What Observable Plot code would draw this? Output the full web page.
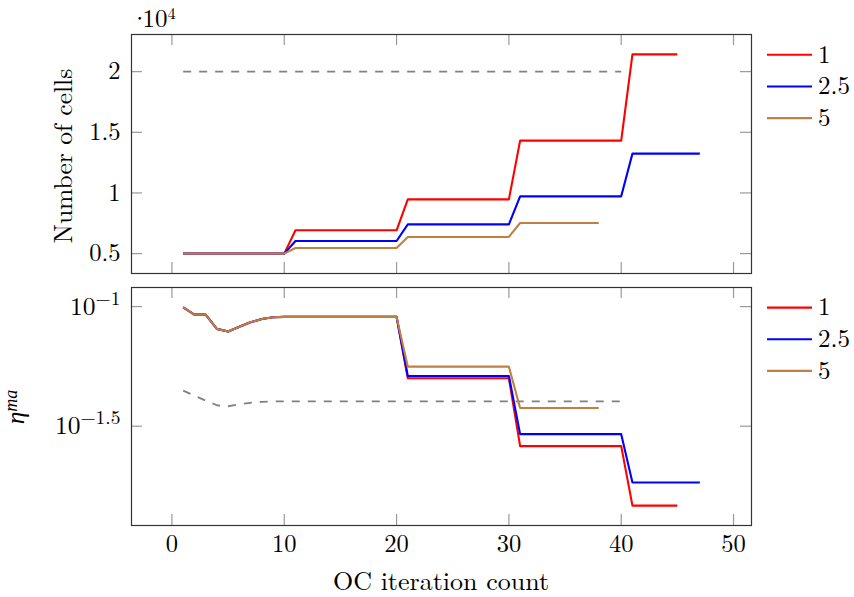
<!DOCTYPE html>
<html>
<head>
<meta charset="utf-8">
<script src="https://cdn.jsdelivr.net/npm/d3@7"></script>
<script src="https://cdn.jsdelivr.net/npm/@observablehq/plot@0.6"></script>
<style>
  html, body { margin: 0; padding: 0; background: #fff; }
  #chart { position: relative; width: 854px; height: 597px; overflow: hidden; font-family: 'Latin Modern Roman', 'Liberation Serif', serif; color: #000; }
  #chart svg.panel { position: absolute; left: 0; background: transparent; }
</style>
</head>
<body>
<div id="chart"></div>
<script>
// ---------------- data ----------------
const seriesNames = ["1", "2.5", "5"];
const seriesColors = ["#ff0000", "#0000ff", "#bf8040"];
const refColor = "#808080";

const xTicks = [0, 10, 20, 30, 40, 50];
const cellTicks = [5000, 10000, 15000, 20000];
const etaTickExponents = [-1, -1.5];

// Number of cells per OC iteration (iteration = index + 1)
const cellsRed = [
  5000, 5000, 5000, 5000, 5000, 5000, 5000, 5000, 5000, 5000,
  6920, 6920, 6920, 6920, 6920, 6920, 6920, 6920, 6920, 6920,
  9470, 9470, 9470, 9470, 9470, 9470, 9470, 9470, 9470, 9470,
  14310, 14310, 14310, 14310, 14310, 14310, 14310, 14310, 14310, 14310,
  21420, 21420, 21420, 21420, 21420
];
const cellsBlue = [
  5000, 5000, 5000, 5000, 5000, 5000, 5000, 5000, 5000, 5000,
  6040, 6040, 6040, 6040, 6040, 6040, 6040, 6040, 6040, 6040,
  7410, 7410, 7410, 7410, 7410, 7410, 7410, 7410, 7410, 7410,
  9720, 9720, 9720, 9720, 9720, 9720, 9720, 9720, 9720, 9720,
  13240, 13240, 13240, 13240, 13240, 13240, 13240
];
const cellsBrown = [
  5000, 5000, 5000, 5000, 5000, 5000, 5000, 5000, 5000, 5000,
  5460, 5460, 5460, 5460, 5460, 5460, 5460, 5460, 5460, 5460,
  6370, 6370, 6370, 6370, 6370, 6370, 6370, 6370, 6370, 6370,
  7520, 7520, 7520, 7520, 7520, 7520, 7520, 7520
];
const cellsLimit = [
  20000, 20000, 20000, 20000, 20000, 20000, 20000, 20000, 20000, 20000,
  20000, 20000, 20000, 20000, 20000, 20000, 20000, 20000, 20000, 20000,
  20000, 20000, 20000, 20000, 20000, 20000, 20000, 20000, 20000, 20000,
  20000, 20000, 20000, 20000, 20000, 20000, 20000, 20000, 20000, 20000
];

// eta^ma per OC iteration
const etaRed = [
  0.0993, 0.0926, 0.0926, 0.0807, 0.0787, 0.0823, 0.0860, 0.0887, 0.0902, 0.0906,
  0.0906, 0.0906, 0.0906, 0.0906, 0.0906, 0.0906, 0.0906, 0.0906, 0.0906, 0.0906,
  0.0502, 0.0502, 0.0502, 0.0502, 0.0502, 0.0502, 0.0502, 0.0502, 0.0502, 0.0502,
  0.0261, 0.0261, 0.0261, 0.0261, 0.0261, 0.0261, 0.0261, 0.0261, 0.0261, 0.0261,
  0.01472, 0.01472, 0.01472, 0.01472, 0.01472
];
const etaBlue = [
  0.0993, 0.0926, 0.0926, 0.0807, 0.0787, 0.0823, 0.0860, 0.0887, 0.0902, 0.0906,
  0.0906, 0.0906, 0.0906, 0.0906, 0.0906, 0.0906, 0.0906, 0.0906, 0.0906, 0.0906,
  0.0513, 0.0513, 0.0513, 0.0513, 0.0513, 0.0513, 0.0513, 0.0513, 0.0513, 0.0513,
  0.0293, 0.0293, 0.0293, 0.0293, 0.0293, 0.0293, 0.0293, 0.0293, 0.0293, 0.0293,
  0.0184, 0.0184, 0.0184, 0.0184, 0.0184, 0.0184, 0.0184
];
const etaBrown = [
  0.0993, 0.0926, 0.0926, 0.0807, 0.0787, 0.0823, 0.0860, 0.0887, 0.0902, 0.0906,
  0.0906, 0.0906, 0.0906, 0.0906, 0.0906, 0.0906, 0.0906, 0.0906, 0.0906, 0.0906,
  0.0561, 0.0561, 0.0561, 0.0561, 0.0561, 0.0561, 0.0561, 0.0561, 0.0561, 0.0561,
  0.0377, 0.0377, 0.0377, 0.0377, 0.0377, 0.0377, 0.0377, 0.0377
];
const etaLimit = [
  0.04455, 0.04246, 0.04046, 0.03869, 0.03832, 0.03906, 0.03963, 0.03999, 0.04019, 0.0402,
  0.0402, 0.0402, 0.0402, 0.0402, 0.0402, 0.0402, 0.0402, 0.0402, 0.0402, 0.0402,
  0.0402, 0.0402, 0.0402, 0.0402, 0.0402, 0.0402, 0.0402, 0.0402, 0.0402, 0.0402,
  0.0402, 0.0402, 0.0402, 0.0402, 0.0402, 0.0402, 0.0402, 0.0402, 0.0402, 0.0402
];

// ---------------- build ----------------
const FONT = "'Latin Modern Roman', 'Liberation Serif', serif";
const toRows = (values, series) => values.map((v, i) => ({iter: i + 1, value: v, series}));

const cellRows = [...toRows(cellsRed, seriesNames[0]), ...toRows(cellsBlue, seriesNames[1]), ...toRows(cellsBrown, seriesNames[2])];
const cellLimitRows = toRows(cellsLimit, "limit");
const etaRows = [...toRows(etaRed, seriesNames[0]), ...toRows(etaBlue, seriesNames[1]), ...toRows(etaBrown, seriesNames[2])];
const etaLimitRows = toRows(etaLimit, "limit");

// pgfplots-style 10% enlargement of the data limits
function enlarge([a, b], f = 0.1) { const d = (b - a) * f; return [a - d, b + d]; }
const xDomain = enlarge(d3.extent([...cellRows, ...cellLimitRows, ...etaRows, ...etaLimitRows], d => d.iter));
const cellDomain = enlarge(d3.extent([...cellRows, ...cellLimitRows], d => d.value));
const etaLogExt = enlarge(d3.extent([...etaRows, ...etaLimitRows], d => Math.log10(d.value)));
const etaDomain = etaLogExt.map(e => Math.pow(10, e));
const etaTicks = etaTickExponents.map(e => Math.pow(10, e));

const W = 854, ML = 131, MR = 103, TL = 11, FS = 24.5;
const innerW = W - ML - MR;
const tickStyle = {stroke: "#9a9a9a", strokeWidth: 1.2};
const frameStyle = {stroke: "#333", strokeWidth: 1.2};
const lineStyle = {x: "iter", y: "value", z: "series", stroke: "series", strokeWidth: 2.1, strokeLinecap: "butt", strokeLinejoin: "round"};
const refStyle = {x: "iter", y: "value", stroke: refColor, strokeWidth: 1.8, strokeDasharray: "8,8", strokeLinecap: "butt"};

function tickMarks(yTicks, innerH) {
  return [
    Plot.tickX(xTicks, {x: d => d, insetTop: innerH - TL, ...tickStyle}),
    Plot.tickX(xTicks, {x: d => d, insetBottom: innerH - TL, ...tickStyle}),
    Plot.tickY(yTicks, {y: d => d, insetRight: innerW - TL, ...tickStyle}),
    Plot.tickY(yTicks, {y: d => d, insetLeft: innerW - TL, ...tickStyle})
  ];
}

const chart = document.getElementById("chart");

// top panel: number of cells
const topH = 290, topMT = 34, topMB = 17;
const topPlot = Plot.plot({
  width: W, height: topH,
  marginTop: topMT, marginBottom: topMB, marginLeft: ML, marginRight: MR,
  style: {fontFamily: FONT, fontSize: FS + "px", color: "#000", background: "transparent"},
  x: {domain: xDomain, axis: null},
  y: {domain: cellDomain},
  color: {domain: seriesNames, range: seriesColors},
  marks: [
    ...tickMarks(cellTicks, topH - topMT - topMB),
    Plot.line(cellLimitRows, refStyle),
    Plot.line(cellRows, lineStyle),
    Plot.axisY({ticks: cellTicks, tickSize: 0, tickPadding: 11, tickFormat: d => String(d / 1e4), label: null, fontSize: FS}),
    Plot.frame(frameStyle)
  ]
});
topPlot.classList.add("panel");
topPlot.style.top = "0px";
topPlot.style.fontFamily = FONT;
chart.appendChild(topPlot);

// bottom panel: eta^ma (log)
const botTop = 280, botH = 317, botMT = 7, botMB = 72;
const botPlot = Plot.plot({
  width: W, height: botH,
  marginTop: botMT, marginBottom: botMB, marginLeft: ML, marginRight: MR,
  style: {fontFamily: FONT, fontSize: FS + "px", color: "#000", background: "transparent"},
  x: {domain: xDomain},
  y: {type: "log", domain: etaDomain},
  color: {domain: seriesNames, range: seriesColors},
  marks: [
    ...tickMarks(etaTicks, botH - botMT - botMB),
    Plot.line(etaLimitRows, refStyle),
    Plot.line(etaRows, lineStyle),
    Plot.axisX({ticks: xTicks, tickSize: 0, tickPadding: 9.5, tickFormat: d => String(d), label: null, fontSize: FS}),
    Plot.axisY({ticks: etaTicks, tickSize: 0, tickPadding: 11,
      tickFormat: d => "10^" + String(Math.round(Math.log10(d) * 10) / 10).replace("-", "\u2212"),
      label: null, fontSize: FS}),
    Plot.frame(frameStyle)
  ]
});
botPlot.classList.add("panel");
botPlot.style.top = botTop + "px";
botPlot.style.fontFamily = FONT;
chart.appendChild(botPlot);

// turn "10^e" tick labels into real superscripts
const SVGNS = "http://www.w3.org/2000/svg";
botPlot.querySelectorAll('[aria-label="y-axis tick label"] text').forEach(t => {
  const s = t.textContent;
  if (!s.includes("^")) return;
  const [base, exp] = s.split("^");
  t.textContent = base;
  t.setAttribute("font-size", "25.5");
  const ts = document.createElementNS(SVGNS, "tspan");
  ts.setAttribute("dy", "-10");
  ts.setAttribute("font-size", "19.5");
  ts.textContent = exp;
  t.appendChild(ts);
});

// axis titles + legends overlay
const overlay = d3.create("svg")
  .attr("class", "panel")
  .attr("width", W).attr("height", 597)
  .style("top", "0px")
  .style("pointer-events", "none")
  .attr("font-family", FONT);

// scale factor label
const sf = overlay.append("text").attr("x", 130).attr("y", 27).attr("font-size", 25);
sf.append("tspan").style("letter-spacing", "-7px").text("\u00b7");
sf.append("tspan").text("10");
sf.append("tspan").attr("dy", -8).attr("font-size", 16.5).text("4");

overlay.append("text")
  .attr("transform", "translate(71.5,156) rotate(-90)")
  .attr("text-anchor", "middle").attr("font-size", 25.5)
  .text("Number of cells");

const eta = overlay.append("text")
  .attr("transform", "translate(23.5,407) rotate(-90)")
  .attr("text-anchor", "middle").attr("font-size", 25.5).attr("font-style", "italic")
  .attr("font-family", "'Liberation Serif', serif");
eta.append("tspan").text("\u03b7");
eta.append("tspan").attr("dy", -7).attr("font-size", 18).text("ma");

overlay.append("text")
  .attr("x", 441).attr("y", 589.5)
  .attr("text-anchor", "middle").attr("font-size", 26)
  .text("OC iteration count");

// legends (one per panel)
function legend(firstBaseline, step) {
  const g = overlay.append("g");
  const rows = g.selectAll("g").data(seriesNames).join("g")
    .attr("transform", (d, i) => `translate(0,${firstBaseline + i * step})`);
  rows.append("line")
    .attr("x1", 767).attr("x2", 812).attr("y1", -7.8).attr("y2", -7.8)
    .attr("stroke", (d, i) => seriesColors[i]).attr("stroke-width", 2.1);
  rows.append("text")
    .attr("x", 818).attr("y", 0).attr("font-size", 25)
    .text(d => d);
}
legend(62.6, 31.65);
legend(315.4, 31.65);

chart.appendChild(overlay.node());
</script>
</body>
</html>
